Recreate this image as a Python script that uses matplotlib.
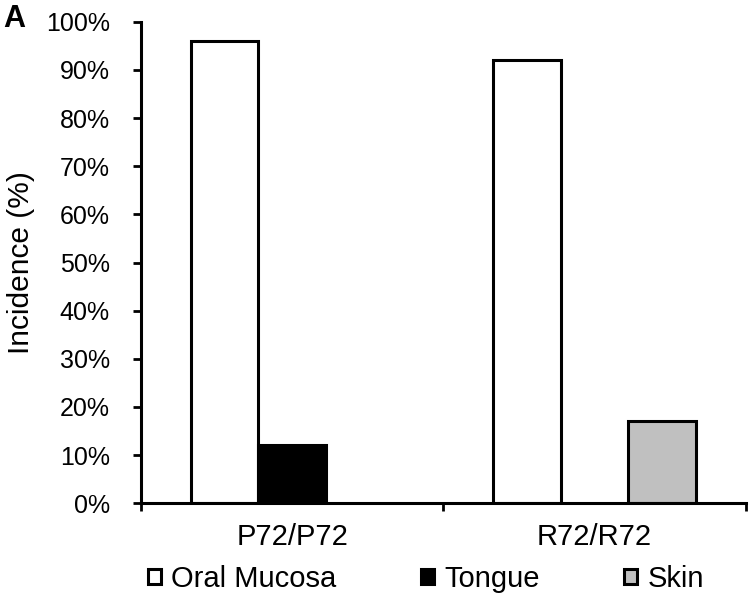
import numpy as np
import matplotlib.pyplot as plt

plt.rcParams['font.family'] = ['Liberation Sans', 'DejaVu Sans']

groups = ['P72/P72', 'R72/R72']
series = ['Oral Mucosa', 'Tongue', 'Skin']
values = {
    'Oral Mucosa': [96, 92],
    'Tongue': [12, 0],
    'Skin': [0, 17],
}
colors = {'Oral Mucosa': 'white', 'Tongue': 'black', 'Skin': '#c0c0c0'}

fig = plt.figure(figsize=(7.5, 6), dpi=100)
ax = fig.add_axes([0.188, 0.1612, 0.8063, 0.8026])

x = np.arange(len(groups))
w = 0.223
for i, s in enumerate(series):
    v = np.array(values[s]) / 100
    keep = v > 0  # empty bars are not drawn
    ax.bar(x[keep] + (i - 1) * w, v[keep], w, color=colors[s], edgecolor='black',
           linewidth=2.2, label=s, zorder=3)

ax.set_xlim(-0.5, 1.5)
ax.set_ylim(0, 1)
yt = np.arange(0, 1.01, 0.1)
ax.set_yticks(yt)
ax.set_yticklabels([f'{int(round(t * 100))}%' for t in yt])
ax.set_xticks([-0.5, 0.5, 1.5])
ax.set_xticklabels([])
ax.set_xticks(x, minor=True)
ax.set_xticklabels(groups, minor=True)
ax.tick_params(axis='x', which='minor', length=0, labelsize=21, pad=14)
ax.tick_params(axis='x', which='major', length=6, width=2, direction='out')
ax.tick_params(axis='y', length=6, width=2, direction='out', labelsize=18, pad=16.5)
for sp in ['top', 'right']:
    ax.spines[sp].set_visible(False)
for sp in ['left', 'bottom']:
    ax.spines[sp].set_linewidth(2.2)
ax.spines['bottom'].set_zorder(4)
ax.set_ylabel('Incidence (%)', fontsize=21.5, labelpad=8)

fig.legend(loc='center', bbox_to_anchor=(0.568, 0.035), ncol=3, frameon=False,
           fontsize=21, handlelength=0.45, handleheight=0.45, handletextpad=0.34,
           columnspacing=2.9, borderpad=0, borderaxespad=0)
fig.text(0.004, 0.968, 'A', fontsize=22, fontweight='bold', va='center')

fig.savefig('out.png', dpi=100)
